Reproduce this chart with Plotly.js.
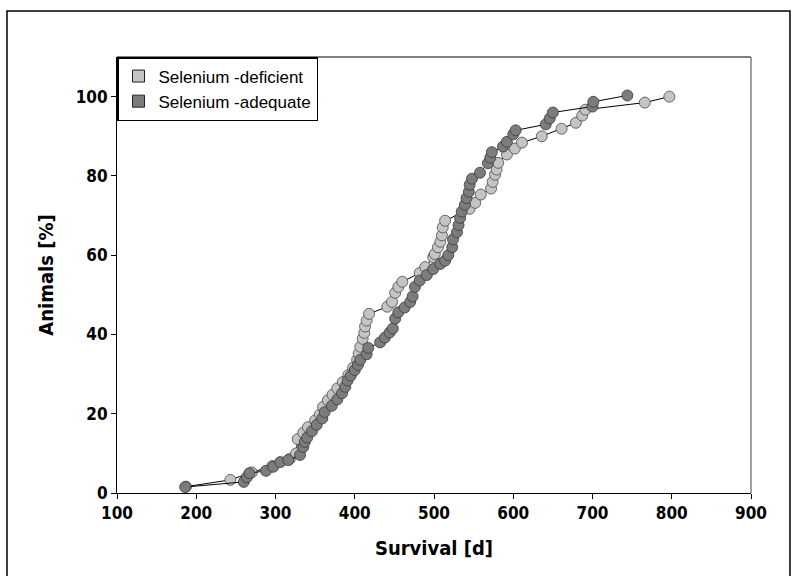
<!DOCTYPE html>
<html>
<head>
<meta charset="utf-8">
<script src="https://cdn.plot.ly/plotly-3.0.1.min.js"></script>
<style>html,body{margin:0;padding:0;background:#fff;}#chart{width:792px;height:576px;}</style>
</head>
<body>
<div id="chart"></div>
<script>
// Selenium-deficient (light grey)
const deficientDays = [187,243,270,296,318,326,328,335,341,350,356,360,366,372,378,385,392,398,403,405,407,410,412,413,415,418,441,447,451,455,460,482,489,499,501,505,508,510,511,514,545,552,559,572,574,577,579,581,592,602,611,636,661,679,687,691,766,797];
const deficientPct  = [1.6,3.3,5.2,6.8,8.6,10.0,13.6,15.2,16.6,18.3,19.8,21.7,23.4,24.8,26.4,28.0,29.8,31.6,33.6,35.2,36.9,38.9,40.4,42.0,43.5,45.2,47.0,48.2,50.5,52.0,53.3,55.5,57.0,59.5,60.3,62.0,63.4,65.0,67.0,68.7,71.7,73.2,75.3,76.8,78.5,80.3,81.6,83.3,85.4,86.9,88.4,90.0,91.9,93.4,95.2,96.7,98.5,100.0];
// Selenium-adequate (dark grey)
const adequateDays = [186,260,264,267,288,297,306,316,331,335,337,340,346,352,359,362,371,378,384,388,391,395,400,404,407,415,417,432,438,444,448,451,455,463,470,473,476,482,491,499,508,514,518,523,524,529,531,533,535,539,541,544,545,548,558,568,571,573,587,592,600,603,641,646,650,700,701,744];
const adequatePct  = [1.5,2.8,4.0,5.0,5.6,6.6,7.8,8.3,9.6,11.6,12.9,14.0,15.6,17.2,18.8,20.4,22.0,23.6,25.2,26.8,28.4,29.6,31.0,32.3,33.6,35.0,36.6,38.0,39.2,40.5,41.5,44.0,45.6,46.8,48.2,49.6,52.0,53.6,55.0,56.5,57.8,58.6,60.0,62.0,64.0,65.8,67.6,69.4,71.0,72.7,74.4,76.0,77.8,79.3,80.8,83.2,84.6,86.0,87.4,88.6,90.5,91.5,93.0,94.5,96.0,97.5,98.7,100.3];

const seriesNames = ["Selenium -deficient", "Selenium -adequate"];
const xTicks = [100,200,300,400,500,600,700,800,900];
const yTicks = [0,20,40,60,80,100];

const lightFill = "#c4c4c4";
const darkFill = "#7c7c7c";
const narrow = "'DejaVu Sans Condensed', 'Liberation Sans Narrow', 'Liberation Sans', Arial, sans-serif";

const traces = [
  {x: deficientDays, y: deficientPct, type: "scatter", mode: "lines+markers", showlegend: false,
   line: {color: "#000", width: 1},
   marker: {size: 11, color: lightFill, line: {color: "#4a4a4a", width: 0.8}}},
  {x: adequateDays, y: adequatePct, type: "scatter", mode: "lines+markers", showlegend: false,
   line: {color: "#000", width: 1},
   marker: {size: 11, color: darkFill, line: {color: "#3a3a3a", width: 0.8}}},
  {x: [null], y: [null], type: "bar", name: seriesNames[0], showlegend: true,
   marker: {color: lightFill, line: {color: "#222", width: 1}}},
  {x: [null], y: [null], type: "bar", name: seriesNames[1], showlegend: true,
   marker: {color: darkFill, line: {color: "#222", width: 1}}}
];

const layout = {
  width: 792, height: 576,
  margin: {l: 117, r: 41, t: 57, b: 83},
  paper_bgcolor: "#fff", plot_bgcolor: "#fff",
  showlegend: true,
  legend: {x: 0, y: 1, xanchor: "left", yanchor: "top", bgcolor: "#fff",
    bordercolor: "#000", borderwidth: 1.5,
    font: {family: "'Liberation Sans', Arial, sans-serif", size: 17, color: "#000"},
    tracegroupgap: 0, itemwidth: 30},
  xaxis: {type: "linear", range: [100, 900], tickvals: xTicks, ticktext: xTicks.map(String),
    showgrid: false, zeroline: false, showline: true, linecolor: "#000", linewidth: 1,
    ticks: "outside", ticklen: 5, tickcolor: "#000",
    tickfont: {family: narrow, size: 17, color: "#000", weight: "bold"},
    title: {text: "<b>Survival [d]</b>", font: {family: narrow, size: 20, color: "#000"}, standoff: 18}},
  yaxis: {type: "linear", range: [0, 110], tickvals: yTicks, ticktext: yTicks.map(String),
    showgrid: false, zeroline: false, showline: true, linecolor: "#000", linewidth: 1,
    ticks: "outside", ticklen: 5, tickcolor: "#000",
    tickfont: {family: narrow, size: 17, color: "#000", weight: "bold"},
    title: {text: "<b>Animals [%]</b>", font: {family: narrow, size: 20, color: "#000"}, standoff: 16}},
  shapes: [
    {type: "line", xref: "paper", yref: "paper", x0: 0, x1: 1, y0: 1, y1: 1, line: {color: "#000", width: 1}},
    {type: "line", xref: "paper", yref: "paper", x0: 1, x1: 1, y0: 0, y1: 1, line: {color: "#808080", width: 1.5}},
    {type: "rect", xref: "paper", yref: "paper", x0: -0.1735, x1: 1.0615, y0: -0.25, y1: 1.1055,
     line: {color: "#000", width: 1.5}, fillcolor: "rgba(0,0,0,0)", layer: "below"}
  ]
};

Plotly.newPlot("chart", traces, layout, {displayModeBar: false, staticPlot: true});
</script>
</body>
</html>
